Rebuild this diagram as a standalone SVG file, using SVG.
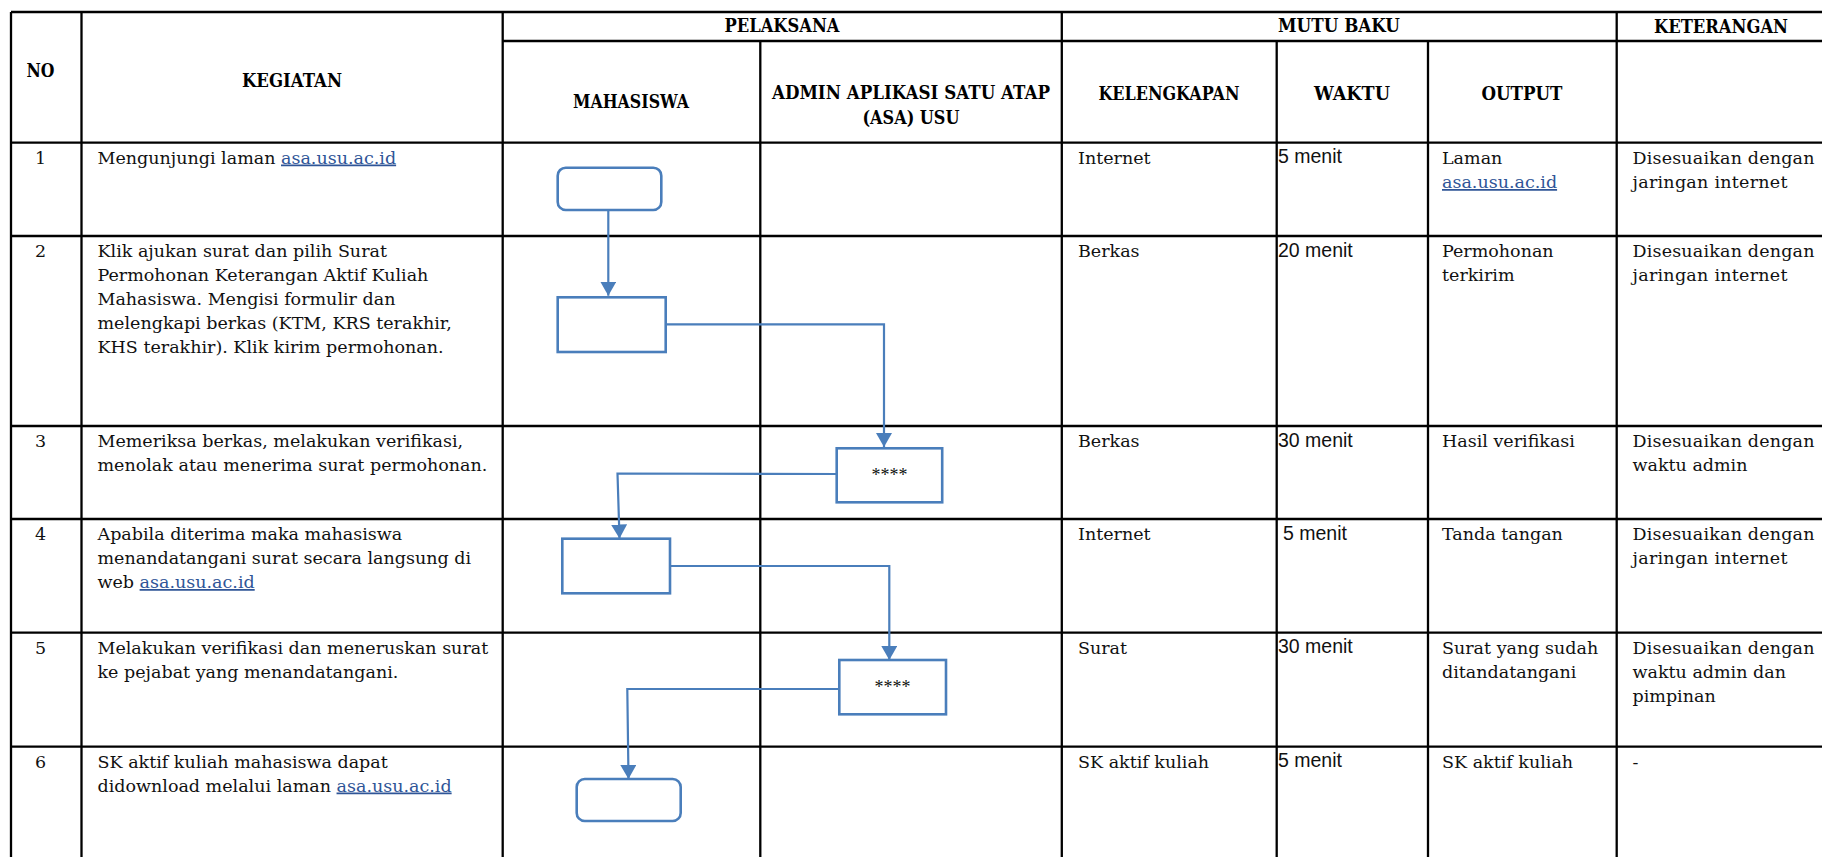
<svg xmlns="http://www.w3.org/2000/svg" width="1822" height="857" viewBox="0 0 1822 857">
<style>
  .grid line { stroke: #000; stroke-width: 2.3; }
  .hd { font-family: "DejaVu Serif", "Liberation Serif", serif; font-weight: bold; font-size: 19px; fill: #000; text-anchor: middle; }
  .tx { font-family: "DejaVu Serif", "Liberation Serif", serif; font-size: 17.5px; fill: #111; }
  .num { text-anchor: middle; }
  .wk { font-family: "Liberation Sans", Arial, sans-serif; font-size: 19.5px; fill: #111; }
  .lnk { fill: #2F5597; text-decoration: underline; }
  .shape { fill: #fff; stroke: #4A7EBB; stroke-width: 2.6; }
  .conn { fill: none; stroke: #4A7EBB; stroke-width: 2.2; }
  .star { font-family: "Liberation Serif", serif; font-size: 18px; fill: #111; text-anchor: middle; }
</style>
<defs>
  <marker id="arr" viewBox="0 0 14 16" refX="14" refY="8" markerWidth="14" markerHeight="16" markerUnits="userSpaceOnUse" orient="auto">
    <path d="M0,0 L14,8 L0,16 z" fill="#4A7EBB"/>
  </marker>
</defs>
<rect width="1822" height="857" fill="#fff"/>

<g id="table-grid" class="grid">
  <line x1="11" y1="12" x2="1822" y2="12"/>
  <line x1="502.7" y1="41" x2="1822" y2="41"/>
  <line x1="11" y1="142.7" x2="1822" y2="142.7"/>
  <line x1="11" y1="236" x2="1822" y2="236"/>
  <line x1="11" y1="426" x2="1822" y2="426"/>
  <line x1="11" y1="519" x2="1822" y2="519"/>
  <line x1="11" y1="632.7" x2="1822" y2="632.7"/>
  <line x1="11" y1="746.7" x2="1822" y2="746.7"/>
  <line x1="11" y1="12" x2="11" y2="857"/>
  <line x1="81.5" y1="12" x2="81.5" y2="857"/>
  <line x1="502.7" y1="12" x2="502.7" y2="857"/>
  <line x1="760.3" y1="41" x2="760.3" y2="857"/>
  <line x1="1061.8" y1="12" x2="1061.8" y2="857"/>
  <line x1="1276.7" y1="41" x2="1276.7" y2="857"/>
  <line x1="1428" y1="41" x2="1428" y2="857"/>
  <line x1="1616.7" y1="12" x2="1616.7" y2="857"/>
</g>

<g id="headers">
  <text class="hd" x="40.5" y="77" textLength="28" lengthAdjust="spacingAndGlyphs">NO</text>
  <text class="hd" x="292" y="87" textLength="100" lengthAdjust="spacingAndGlyphs">KEGIATAN</text>
  <text class="hd" x="782" y="32" textLength="115" lengthAdjust="spacingAndGlyphs">PELAKSANA</text>
  <text class="hd" x="1339" y="32" textLength="122" lengthAdjust="spacingAndGlyphs">MUTU BAKU</text>
  <text class="hd" x="1721" y="33" textLength="134" lengthAdjust="spacingAndGlyphs">KETERANGAN</text>
  <text class="hd" x="631" y="108" textLength="116" lengthAdjust="spacingAndGlyphs">MAHASISWA</text>
  <text class="hd" x="911" y="99" textLength="278" lengthAdjust="spacingAndGlyphs">ADMIN APLIKASI SATU ATAP</text>
  <text class="hd" x="911" y="124" textLength="97" lengthAdjust="spacingAndGlyphs">(ASA) USU</text>
  <text class="hd" x="1169" y="100" textLength="141" lengthAdjust="spacingAndGlyphs">KELENGKAPAN</text>
  <text class="hd" x="1352" y="100" textLength="76" lengthAdjust="spacingAndGlyphs">WAKTU</text>
  <text class="hd" x="1522" y="100" textLength="81" lengthAdjust="spacingAndGlyphs">OUTPUT</text>
</g>

<g id="row1">
  <text class="tx num" x="40.5" y="163.5">1</text>
  <text class="tx" x="97.5" y="163.5">Mengunjungi laman <tspan class="lnk">asa.usu.ac.id</tspan></text>
  <text class="tx" x="1078" y="163.5">Internet</text>
  <text class="wk" x="1278" y="163">5 menit</text>
  <text class="tx" x="1442" y="163.5">Laman</text>
  <text class="tx lnk" x="1442" y="188">asa.usu.ac.id</text>
  <text class="tx" x="1632.5" y="163.5" textLength="182" lengthAdjust="spacing">Disesuaikan dengan</text>
  <text class="tx" x="1632.5" y="188" textLength="155" lengthAdjust="spacing">jaringan internet</text>
</g>

<g id="row2">
  <text class="tx num" x="40.5" y="257">2</text>
  <text class="tx" x="97.5" y="257">Klik ajukan surat dan pilih Surat</text>
  <text class="tx" x="97.5" y="281">Permohonan Keterangan Aktif Kuliah</text>
  <text class="tx" x="97.5" y="305">Mahasiswa. Mengisi formulir dan</text>
  <text class="tx" x="97.5" y="329">melengkapi berkas (KTM, KRS terakhir,</text>
  <text class="tx" x="97.5" y="353">KHS terakhir). Klik kirim permohonan.</text>
  <text class="tx" x="1078" y="257">Berkas</text>
  <text class="wk" x="1278" y="256.5">20 menit</text>
  <text class="tx" x="1442" y="257">Permohonan</text>
  <text class="tx" x="1442" y="281">terkirim</text>
  <text class="tx" x="1632.5" y="257" textLength="182" lengthAdjust="spacing">Disesuaikan dengan</text>
  <text class="tx" x="1632.5" y="281" textLength="155" lengthAdjust="spacing">jaringan internet</text>
</g>

<g id="row3">
  <text class="tx num" x="40.5" y="447">3</text>
  <text class="tx" x="97.5" y="447">Memeriksa berkas, melakukan verifikasi,</text>
  <text class="tx" x="97.5" y="471">menolak atau menerima surat permohonan.</text>
  <text class="tx" x="1078" y="447">Berkas</text>
  <text class="wk" x="1278" y="446.5">30 menit</text>
  <text class="tx" x="1442" y="447">Hasil verifikasi</text>
  <text class="tx" x="1632.5" y="447" textLength="182" lengthAdjust="spacing">Disesuaikan dengan</text>
  <text class="tx" x="1632.5" y="471">waktu admin</text>
</g>

<g id="row4">
  <text class="tx num" x="40.5" y="540">4</text>
  <text class="tx" x="97.5" y="540">Apabila diterima maka mahasiswa</text>
  <text class="tx" x="97.5" y="564">menandatangani surat secara langsung di</text>
  <text class="tx" x="97.5" y="588">web <tspan class="lnk">asa.usu.ac.id</tspan></text>
  <text class="tx" x="1078" y="540">Internet</text>
  <text class="wk" x="1283" y="539.5">5 menit</text>
  <text class="tx" x="1442" y="540">Tanda tangan</text>
  <text class="tx" x="1632.5" y="540" textLength="182" lengthAdjust="spacing">Disesuaikan dengan</text>
  <text class="tx" x="1632.5" y="564" textLength="155" lengthAdjust="spacing">jaringan internet</text>
</g>

<g id="row5">
  <text class="tx num" x="40.5" y="653.5">5</text>
  <text class="tx" x="97.5" y="653.5">Melakukan verifikasi dan meneruskan surat</text>
  <text class="tx" x="97.5" y="677.5">ke pejabat yang menandatangani.</text>
  <text class="tx" x="1078" y="653.5">Surat</text>
  <text class="wk" x="1278" y="653">30 menit</text>
  <text class="tx" x="1442" y="653.5">Surat yang sudah</text>
  <text class="tx" x="1442" y="677.5">ditandatangani</text>
  <text class="tx" x="1632.5" y="653.5" textLength="182" lengthAdjust="spacing">Disesuaikan dengan</text>
  <text class="tx" x="1632.5" y="677.5">waktu admin dan</text>
  <text class="tx" x="1632.5" y="701.5">pimpinan</text>
</g>

<g id="row6">
  <text class="tx num" x="40.5" y="767.5">6</text>
  <text class="tx" x="97.5" y="767.5">SK aktif kuliah mahasiswa dapat</text>
  <text class="tx" x="97.5" y="791.5">didownload melalui laman <tspan class="lnk">asa.usu.ac.id</tspan></text>
  <text class="tx" x="1078" y="767.5">SK aktif kuliah</text>
  <text class="wk" x="1278" y="767">5 menit</text>
  <text class="tx" x="1442" y="767.5">SK aktif kuliah</text>
  <text class="tx" x="1632.5" y="767.5">-</text>
</g>

<g id="connectors">
  <path class="conn" d="M608.3,210 V295.7" marker-end="url(#arr)"/>
  <path class="conn" d="M665.7,324.3 H884 V447" marker-end="url(#arr)"/>
  <path class="conn" d="M836.7,474 L617.5,473.5 L619.5,538.5" marker-end="url(#arr)"/>
  <path class="conn" d="M670,566 H889.3 V660" marker-end="url(#arr)"/>
  <path class="conn" d="M839.3,689 H627.3 L628.5,779" marker-end="url(#arr)"/>
</g>

<g id="node-start">
  <rect class="shape" x="557.7" y="167.7" width="103.6" height="42.3" rx="8"/>
</g>
<g id="node-submit">
  <rect class="shape" x="557.7" y="297.3" width="108" height="54.7"/>
</g>
<g id="node-verify1">
  <rect class="shape" x="836.7" y="448.3" width="105.5" height="54"/>
  <text class="star" x="889.5" y="481">****</text>
</g>
<g id="node-sign">
  <rect class="shape" x="562.3" y="538.7" width="107.7" height="54.6"/>
</g>
<g id="node-verify2">
  <rect class="shape" x="839.3" y="660" width="106.7" height="54.3"/>
  <text class="star" x="892.5" y="693">****</text>
</g>
<g id="node-end">
  <rect class="shape" x="576.7" y="779" width="104" height="42" rx="8"/>
</g>
</svg>
